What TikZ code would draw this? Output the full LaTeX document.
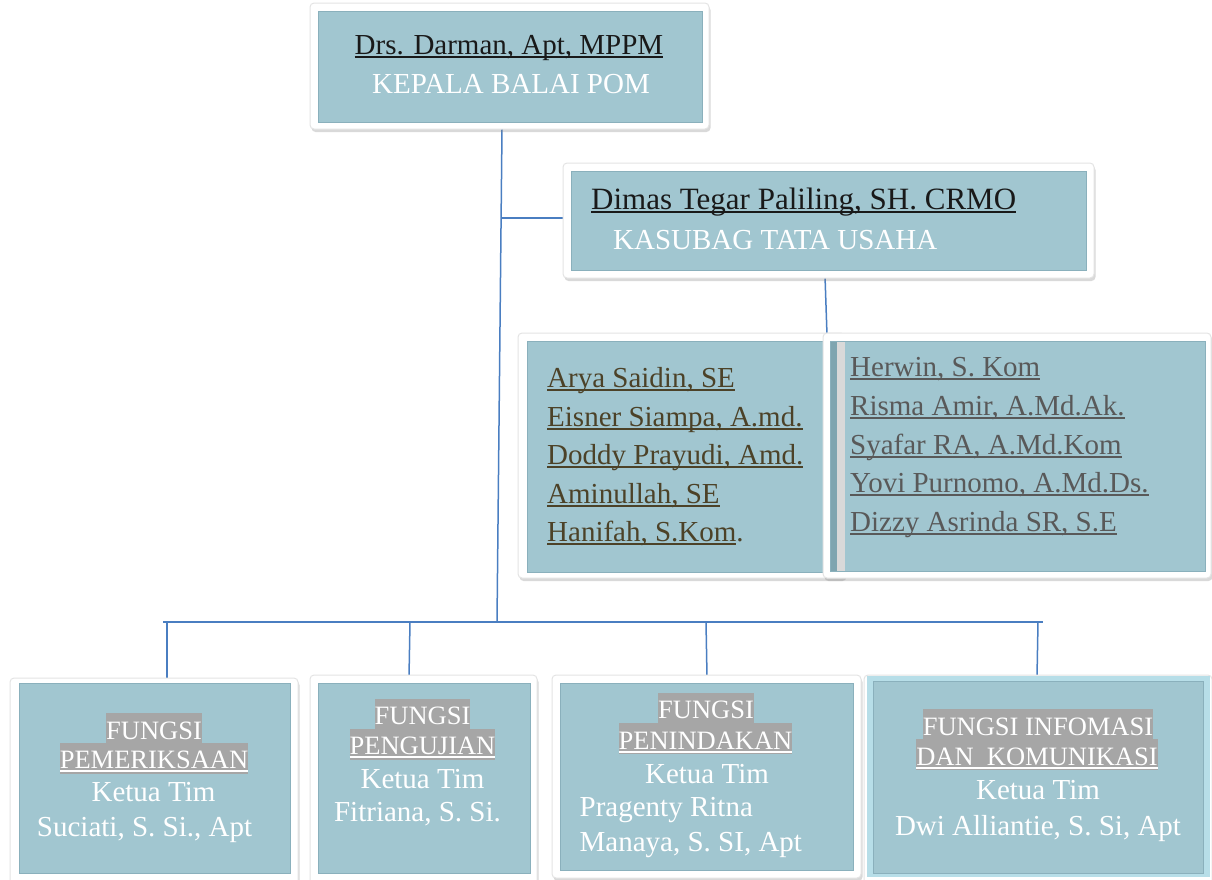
\documentclass[tikz,border=0pt]{standalone}
\usepackage{fontspec}
\setmainfont{Liberation Serif}
\usetikzlibrary{shadows,fit}
\definecolor{boxblue}{RGB}{161,198,208}
\definecolor{edgeblue}{RGB}{138,176,188}
\definecolor{linkblue}{RGB}{74,126,193}
\definecolor{hlgray}{RGB}{166,166,166}
\definecolor{olivetxt}{RGB}{76,66,40}
\definecolor{staffgray}{RGB}{89,89,89}
\definecolor{darktxt}{RGB}{25,25,25}
\definecolor{lightcyan}{RGB}{183,222,232}
\definecolor{stripdark}{RGB}{127,165,176}
\definecolor{stripgray}{RGB}{217,217,217}
\definecolor{frameedge}{RGB}{228,228,228}
\newcommand\ulin[1]{\setbox0\hbox{#1}\rlap{\rule[-3.5pt]{\wd0}{1.8pt}}\box0}
\newcommand\hlt[1]{{\fboxsep=0pt\colorbox{hlgray}{\rule[-5pt]{0pt}{31pt}#1}}}
\tikzset{
  frame/.style={draw=frameedge, line width=1pt, fill=white, rounded corners=4pt,
    drop shadow={opacity=0.3, shadow xshift=1.5pt, shadow yshift=-3pt}, inner sep=0pt},
  panel/.style={fill=boxblue, draw=edgeblue, line width=0.8pt, inner sep=0pt},
  link/.style={draw=linkblue, line width=1.5pt},
  txt/.style={inner sep=0pt, anchor=base, font=\fontsize{29}{34}\selectfont},
  wtxt/.style={txt, text=white},
  ftxt/.style={wtxt, font=\fontsize{26.5}{31}\selectfont},
  stafftxt/.style={txt, anchor=base west},
}
\begin{document}
\begin{tikzpicture}[x=1pt,y=-1pt]
\useasboundingbox (0,0) rectangle (1212,879);
% connectors
\coordinate (trTop) at (502,129);
\coordinate (trBot) at (497,622);
\coordinate (tuJ) at (501.2,218);
\coordinate (tuDrop) at (825,276);
\coordinate (stTop) at (827,335);
\coordinate (busL) at (163,622);
\coordinate (busR) at (1043,622);
\coordinate (d1a) at (167,622); \coordinate (d1b) at (167,678);
\coordinate (d2a) at (410,622); \coordinate (d2b) at (409,677);
\coordinate (d3a) at (706,622); \coordinate (d3b) at (707,677);
\coordinate (d4a) at (1038,622); \coordinate (d4b) at (1037,677);
\draw[link] (trTop) -- (trBot);
\draw[link] (tuJ) -- (565,218);
\draw[link] (tuDrop) -- (stTop);
\draw[link] (busL) -- (busR);
\draw[link] (d1a) -- (d1b);
\draw[link] (d2a) -- (d2b);
\draw[link] (d3a) -- (d3b);
\draw[link] (d4a) -- (d4b);
% top box
\node[frame, fit={(310,3)(709,129)}] (topF) {};
\node[panel, fit={(318,11)(702,122)}] (topP) {};
\node[txt, text=darktxt] (topName) at (509,54) {\ulin{Drs. Darman, Apt, MPPM}};
\node[wtxt] (topRole) at (511,93) {KEPALA BALAI POM};
% kasubag box
\node[frame, fit={(563,163)(1094,278)}] (tuF) {};
\node[panel, fit={(571,171)(1086,270)}] (tuP) {};
\node[txt, anchor=base west, text=darktxt, font=\fontsize{31}{36}\selectfont] (tuName) at (591,209) {\ulin{Dimas Tegar Paliling, SH. CRMO}};
\node[wtxt, anchor=base west] (tuRole) at (613,249) {KASUBAG TATA USAHA};
% staff left
\node[frame, fit={(518,333)(845,578)}] (stLF) {};
\node[panel, fit={(527,341)(823,572)}] (stLP) {};
\node[stafftxt, text=olivetxt] (sl1) at (547,387) {\ulin{Arya Saidin, SE}};
\node[stafftxt, text=olivetxt] (sl2) at (547,426) {\ulin{Eisner Siampa, A.md.}};
\node[stafftxt, text=olivetxt] (sl3) at (547,464) {\ulin{Doddy Prayudi, Amd.}};
\node[stafftxt, text=olivetxt] (sl4) at (547,503) {\ulin{Aminullah, SE}};
\node[stafftxt, text=olivetxt] (sl5) at (547,541.5) {\ulin{Hanifah, S.Kom}.};
% staff right
\node[frame, fit={(823,333)(1211,578)}] (stRF) {};
\node[panel, fit={(830,341)(1205,571)}] (stRP) {};
\fill[stripdark] (831,341.5) rectangle (837,570.5);
\fill[stripgray] (837,341.5) rectangle (845,570.5);
\node[stafftxt, text=staffgray] (sr1) at (850,376.5) {\ulin{Herwin, S. Kom}};
\node[stafftxt, text=staffgray] (sr2) at (850,415.5) {\ulin{Risma Amir, A.Md.Ak.}};
\node[stafftxt, text=staffgray] (sr3) at (850,454) {\ulin{Syafar RA, A.Md.Kom}};
\node[stafftxt, text=staffgray] (sr4) at (850,492.5) {\ulin{Yovi Purnomo, A.Md.Ds.}};
\node[stafftxt, text=staffgray] (sr5) at (850,531) {\ulin{Dizzy Asrinda SR, S.E}};
% bottom 1
\node[frame, fit={(10,678)(298,892)}] (b1F) {};
\node[panel, fit={(19,683)(290,873)}] (b1P) {};
\node[ftxt] (b1a) at (154,739) {\hlt{FUNGSI}};
\node[ftxt] (b1b) at (154,768.5) {\hlt{\ulin{PEMERIKSAAN}}};
\node[wtxt] (b1c) at (153.5,801.5) {Ketua Tim};
\node[wtxt] (b1d) at (144.5,836.5) {Suciati, S. Si., Apt};
% bottom 2
\node[frame, fit={(310,675)(537,892)}] (b2F) {};
\node[panel, fit={(318,683)(530,873)}] (b2P) {};
\node[ftxt] (b2a) at (422.5,724.5) {\hlt{FUNGSI}};
\node[ftxt] (b2b) at (422.5,754.5) {\hlt{\ulin{PENGUJIAN}}};
\node[wtxt] (b2c) at (422.5,788) {Ketua Tim};
\node[wtxt] (b2d) at (417.5,821.5) {Fitriana, S. Si.};
% bottom 3
\node[frame, fit={(552,675)(861,878)}] (b3F) {};
\node[panel, fit={(560,683)(853,870)}] (b3P) {};
\node[ftxt] (b3a) at (706,718.5) {\hlt{FUNGSI}};
\node[ftxt] (b3b) at (705.5,749) {\hlt{\ulin{PENINDAKAN}}};
\node[wtxt] (b3c) at (707,783) {Ketua Tim};
\node[stafftxt, text=white] (b3d) at (579.5,816.5) {Pragenty Ritna};
\node[stafftxt, text=white] (b3e) at (579.5,851.5) {Manaya, S. SI, Apt};
% bottom 4
\node[frame, fit={(864,675)(1212,892)}] (b4F) {};
\node[fill=lightcyan, inner sep=0pt, fit={(867,676)(1210,877)}] (b4E) {};
\node[panel, fit={(873,681)(1203,873)}] (b4P) {};
\node[ftxt] (b4a) at (1038,735) {\hlt{FUNGSI INFOMASI}};
\node[ftxt] (b4b) at (1037,765) {\hlt{\ulin{DAN\ \ KOMUNIKASI}}};
\node[wtxt] (b4c) at (1038,799.5) {Ketua Tim};
\node[wtxt] (b4d) at (1038,835) {Dwi Alliantie, S. Si, Apt};
\end{tikzpicture}
\end{document}
